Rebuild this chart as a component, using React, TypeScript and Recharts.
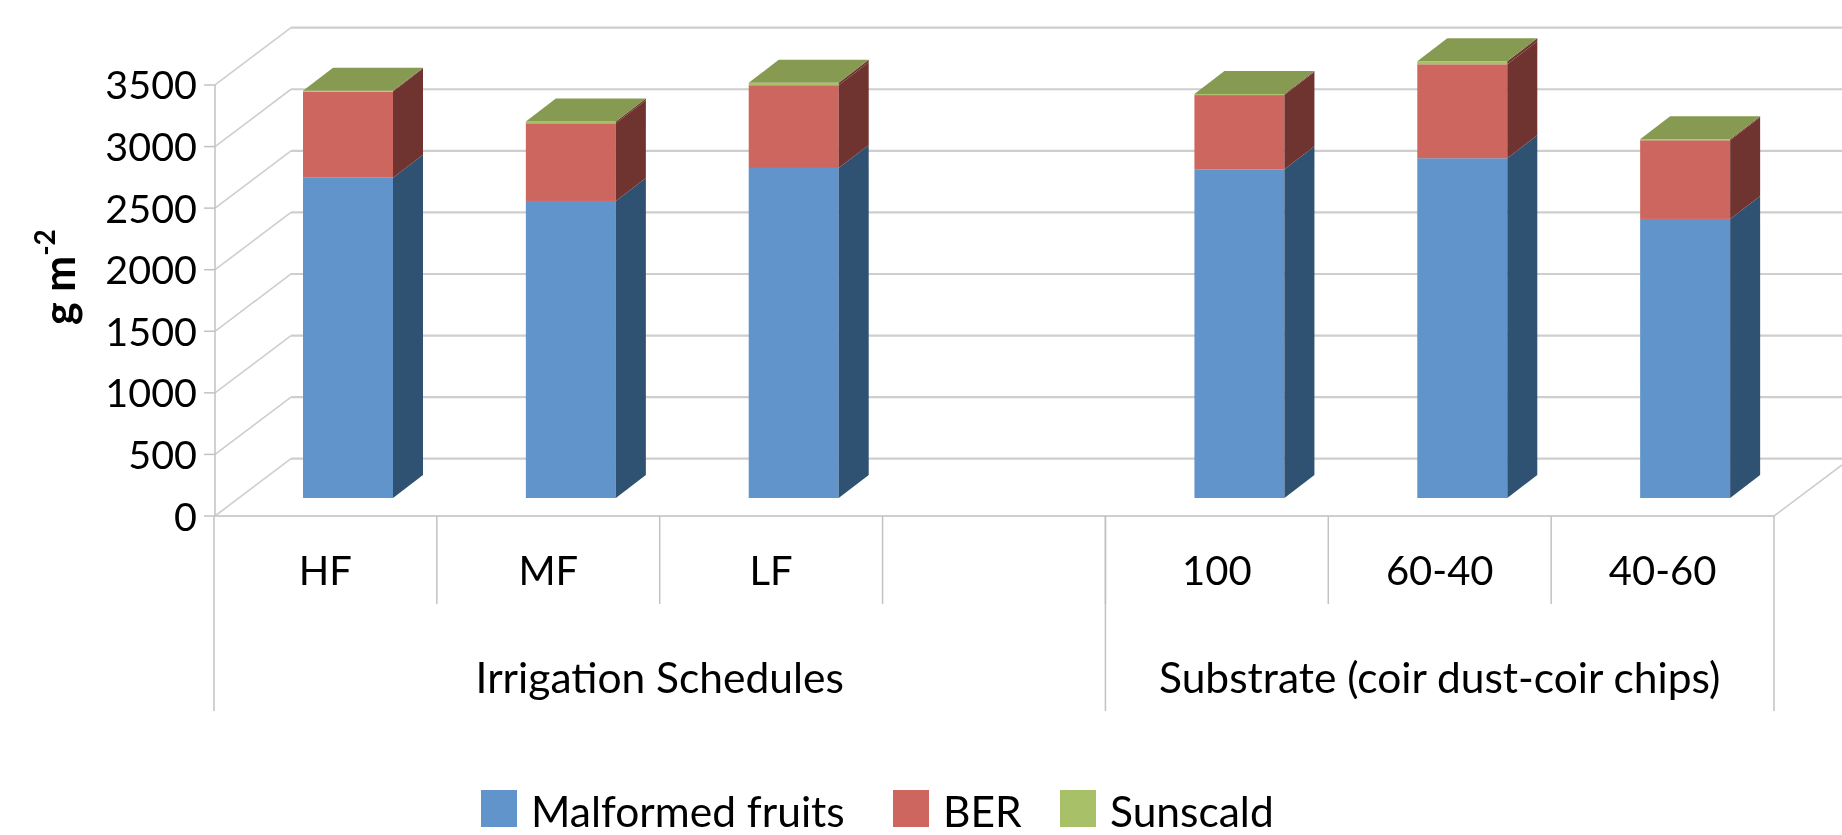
import { BarChart, Bar, XAxis, YAxis, Legend, CartesianGrid } from 'recharts';

const categories = ['HF', 'MF', 'LF', '', '100', '60-40', '40-60'];
const malformed = [2601, 2412, 2680, null, 2669, 2759, 2266];
const ber = [699, 631, 672, null, 603, 763, 639];
const sunscald = [8, 15, 19, null, 8, 24, 8];
const yTicks = [0, 500, 1000, 1500, 2000, 2500, 3000, 3500];
const groups = [
  { label: 'Irrigation Schedules', first: 0, span: 4 },
  { label: 'Substrate (coir dust-coir chips)', first: 4, span: 3 },
];

const data = categories.map((name, i) => ({
  name,
  malformed: malformed[i],
  ber: ber[i],
  sunscald: sunscald[i],
}));

const FONT = 'Lato, sans-serif';
const TEXT = '#000';
const GRID = '#cfcdcd';
const FRAME = '#c2c2c2';

// frame geometry of the fake 3D box
const AXIS_X = 215;
const WALL_X = 291;
const FLOOR_Y = 516;
const RIGHT_X = 1774;
const BAND = 222.86;
const FRONT_DY = 18; // front plane sits below the bar baseline
const WALL_DY = -39.3; // back wall sits above it
const STEP = 61.57;

const Box = (props: any) => {
  const { x, y, width, height, fill, side, top } = props;
  if (!height) return null;
  const dx = 30;
  const dy = 23;
  const r = x + width;
  return (
    <g>
      <rect x={x} y={y} width={width} height={height} fill={fill} />
      <polygon
        points={`${r},${y} ${r + dx},${y - dy} ${r + dx},${y + height - dy} ${r},${y + height}`}
        fill={side}
      />
      {top && (
        <polygon
          points={`${x},${y} ${x + dx},${y - dy} ${r + dx},${y - dy} ${r},${y}`}
          fill={top}
        />
      )}
    </g>
  );
};

// back wall line plus the diagonal running to the front axis
const WallLine = (props: any) => {
  const { y1, index } = props;
  const fy = y1 + FRONT_DY;
  const wy = y1 + WALL_DY;
  return (
    <g key={index}>
      <line x1={WALL_X} y1={wy} x2={1842} y2={wy} stroke={GRID} strokeWidth={2.2} />
      <line x1={AXIS_X} y1={fy} x2={WALL_X} y2={wy} stroke={GRID} strokeWidth={1.6} />
    </g>
  );
};

const ValueTick = (props: any) => {
  const { y, payload } = props;
  const fy = y + FRONT_DY;
  const isZero = payload.value === 0;
  return (
    <g>
      <line x1={204} y1={fy} x2={AXIS_X} y2={fy} stroke={FRAME} strokeWidth={1.5} />
      {!isZero && (
        <line x1={AXIS_X} y1={fy} x2={AXIS_X} y2={fy + STEP} stroke={FRAME} strokeWidth={1.5} />
      )}
      {isZero && (
        <g>
          <line x1={AXIS_X} y1={fy} x2={RIGHT_X} y2={fy} stroke={GRID} strokeWidth={2.2} />
          <line x1={RIGHT_X} y1={fy} x2={1842} y2={465} stroke={GRID} strokeWidth={1.6} />
        </g>
      )}
      <text x={197} y={fy + 14.5} textAnchor="end" fontFamily={FONT} fontSize={39.5} fill={TEXT}>
        {payload.value}
      </text>
    </g>
  );
};

const CategoryTick = (props: any) => {
  const { x, index, payload } = props;
  const cx = x - 23;
  const left = cx - BAND / 2;
  const right = cx + BAND / 2;
  const group = groups.find((g) => g.first === index);
  const isLast = index === categories.length - 1;
  return (
    <g>
      <text x={cx} y={585} textAnchor="middle" fontFamily={FONT} fontSize={40} fill={TEXT}>
        {payload.value}
      </text>
      {group && <line x1={left} y1={FLOOR_Y} x2={left} y2={711} stroke={FRAME} strokeWidth={1.5} />}
      <line
        x1={right}
        y1={FLOOR_Y}
        x2={right}
        y2={isLast ? 711 : 604}
        stroke={FRAME}
        strokeWidth={1.5}
      />
      {group && (
        <text
          x={left + (group.span * BAND) / 2}
          y={693}
          textAnchor="middle"
          fontFamily={FONT}
          fontSize={42.5}
          fill={TEXT}
        >
          {group.label}
        </text>
      )}
    </g>
  );
};

const UnitLabel = () => (
  <text
    transform="translate(75,325) rotate(-90)"
    fontFamily={FONT}
    fontWeight={700}
    fontSize={43}
    fill={TEXT}
  >
    g m
    <tspan fontSize={28} dy={-20}>
      -2
    </tspan>
  </text>
);

const legendLefts = [481, 893, 1060];

const LegendRow = ({ payload }: any) => (
  <div style={{ position: 'relative', width: 1842, height: 45, fontFamily: FONT, fontSize: 42.5, color: TEXT }}>
    {(payload || []).map((item: any, i: number) => (
      <div
        key={item.value}
        style={{
          position: 'absolute',
          left: legendLefts[i],
          top: 0,
          display: 'flex',
          alignItems: 'center',
          whiteSpace: 'nowrap',
        }}
      >
        <span style={{ width: 36, height: 37, background: item.color, marginRight: 14, display: 'inline-block' }} />
        <span style={{ lineHeight: '37px', position: 'relative', top: 2 }}>{item.value}</span>
      </div>
    ))}
  </div>
);

export default function App() {
  return (
    <div
      style={{
        position: 'absolute',
        left: 0,
        top: 0,
        width: 1842,
        height: 835,
        background: '#fff',
        overflow: 'hidden',
        filter: 'blur(0.6px)',
      }}
    >
      <BarChart
        width={1842}
        height={835}
        data={data}
        // domain runs to 3600 so the tallest stack fits, axis labels stop at 3500
        margin={{ top: 54.67, right: 45, bottom: 0, left: 37 }}
        barSize={90}
      >
        <CartesianGrid vertical={false} syncWithTicks horizontal={<WallLine />} />
        <YAxis
          type="number"
          domain={[0, 3600]}
          ticks={yTicks}
          width={200}
          axisLine={false}
          tickLine={false}
          interval={0}
          tick={<ValueTick />}
          label={<UnitLabel />}
        />
        <XAxis
          dataKey="name"
          height={337}
          axisLine={false}
          tickLine={false}
          interval={0}
          tick={<CategoryTick />}
        />
        <Legend
          layout="horizontal"
          verticalAlign="middle"
          align="center"
          itemSorter={null}
          wrapperStyle={{ position: 'absolute', left: 0, top: 790, width: 1842 }}
          content={<LegendRow />}
        />
        <Bar
          dataKey="malformed"
          name="Malformed fruits"
          stackId="a"
          fill="#6094CA"
          isAnimationActive={false}
          shape={(p: any) => <Box {...p} side="#305272" />}
        />
        <Bar
          dataKey="ber"
          name="BER"
          stackId="a"
          fill="#CD665F"
          isAnimationActive={false}
          shape={(p: any) => <Box {...p} side="#703430" />}
        />
        <Bar
          dataKey="sunscald"
          name="Sunscald"
          stackId="a"
          fill="#A8C068"
          isAnimationActive={false}
          shape={(p: any) => <Box {...p} side="#703430" top="#869A52" />}
        />
      </BarChart>
    </div>
  );
}
